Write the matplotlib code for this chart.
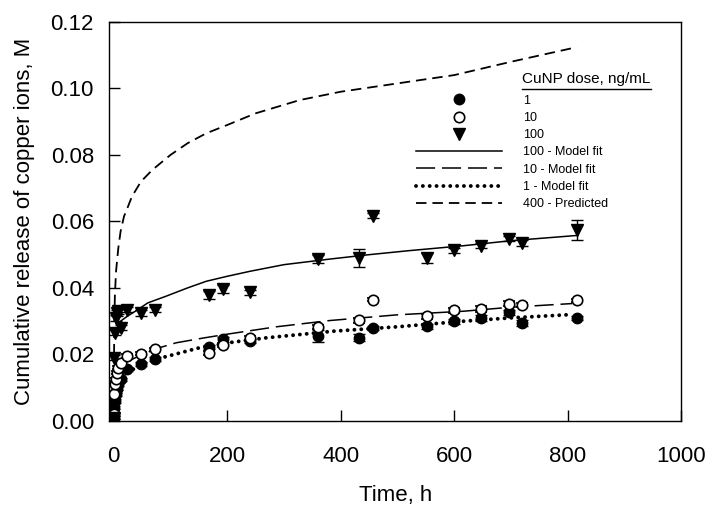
import matplotlib
matplotlib.use("Agg")
import matplotlib.pyplot as plt
from matplotlib.lines import Line2D

plt.rcParams['font.family'] = ['Liberation Sans', 'DejaVu Sans']

# sampling times (h)
time_h = [0, 1, 2, 4, 6, 8, 12, 24, 48, 72, 168, 192, 240, 360,
          432, 456, 552, 600, 648, 696, 720, 816]

# measured release, M
dose_1 = [0.001, 0.004, 0.006, 0.008, 0.0097, 0.011, 0.0125, 0.0155, 0.017, 0.0185,
          0.0223, 0.0245, 0.024, 0.0255, 0.025, 0.0278, 0.0285, 0.030, 0.031,
          0.0327, 0.0295, 0.031]
dose_1_err = [0.0005, 0.0005, 0.0005, 0.0005, 0.0005, 0.0005, 0.0005, 0.0006, 0.0006, 0.0006,
              0.0006, 0.0008, 0.0006, 0.0018, 0.001, 0.0006, 0.0008, 0.0008, 0.0008,
              0.0008, 0.001, 0.0006]
dose_10 = [0.002, 0.008, 0.011, 0.0125, 0.0145, 0.016, 0.0175, 0.0195, 0.0202, 0.0215,
           0.0205, 0.0227, 0.025, 0.0283, 0.0303, 0.0365, 0.0315, 0.0333, 0.0337,
           0.0353, 0.035, 0.0363]
dose_10_err = [0.0005, 0.0005, 0.0005, 0.0005, 0.0005, 0.0005, 0.0005, 0.0005, 0.0005, 0.0005,
               0.0006, 0.0006, 0.0006, 0.0006, 0.0008, 0.0005, 0.0008, 0.0008, 0.0008,
               0.0008, 0.0006, 0.0005]
dose_100 = [0.001, 0.019, 0.0265, 0.031, 0.0325, 0.033, 0.028, 0.0335, 0.0325, 0.0335,
            0.038, 0.0397, 0.0387, 0.0487, 0.049, 0.0617, 0.049, 0.0513, 0.0527,
            0.0548, 0.0535, 0.0573]
dose_100_err = [0.0005, 0.0008, 0.0008, 0.0008, 0.0008, 0.0008, 0.0008, 0.0008, 0.0008, 0.0008,
                0.0012, 0.0012, 0.0008, 0.0012, 0.0027, 0.0008, 0.0015, 0.0008, 0.0008,
                0.0008, 0.001, 0.003]

# model curves
fit100_t = [12, 24, 38, 60, 92, 130, 163, 200, 240, 300, 382, 450, 520, 617, 700, 818]
fit100_v = [0.030, 0.0315, 0.033, 0.0355, 0.0375, 0.040, 0.042, 0.0435, 0.045, 0.047,
            0.0487, 0.050, 0.0512, 0.0527, 0.0542, 0.0558]
fit10_t = [20, 44, 76, 110, 160, 204, 286, 381, 499, 617, 700, 808]
fit10_v = [0.0175, 0.0195, 0.0218, 0.0235, 0.025, 0.0262, 0.0283, 0.0302, 0.0319,
           0.033, 0.0342, 0.0353]
fit1_t = [24, 44, 65, 91, 151, 210, 269, 388, 499, 617, 700, 808]
fit1_v = [0.0145, 0.0165, 0.018, 0.0193, 0.022, 0.0237, 0.025, 0.027, 0.0283,
          0.030, 0.031, 0.032]
pred400_t = [0.5, 1, 2, 4, 8, 12, 18, 24, 32, 48, 68, 100, 130, 163, 200, 250,
             328, 400, 500, 600, 700, 816]
pred400_v = [0.02, 0.03, 0.038, 0.045, 0.052, 0.057, 0.0615, 0.064, 0.0675, 0.072,
             0.0755, 0.080, 0.0835, 0.0865, 0.089, 0.0925, 0.0965, 0.099, 0.1015,
             0.104, 0.108, 0.1124]

fig = plt.figure(figsize=(7.14, 5.09), dpi=100)
ax = fig.add_axes([0.153, 0.173, 0.801, 0.784])

pred_style = dict(color='black', lw=1.3, dashes=(5.8, 3.3))
fit100_style = dict(color='black', lw=1.1)
fit10_style = dict(color='black', lw=1.1, dashes=(12.5, 4.5))
fit1_style = dict(color='black', lw=2.8, dashes=(0.01, 1.75), dash_capstyle='round')

ax.plot(pred400_t, pred400_v, **pred_style)
ax.plot(fit100_t, fit100_v, **fit100_style)
ax.plot(fit10_t, fit10_v, **fit10_style)
ax.plot(fit1_t, fit1_v, **fit1_style)

eb = dict(ecolor='black', elinewidth=1, capsize=4, capthick=1, linestyle='none')
ax.errorbar(time_h, dose_1, yerr=dose_1_err, marker='o', ms=7.5, mfc='black', mec='black', **eb)
ax.errorbar(time_h, dose_10, yerr=dose_10_err, marker='o', ms=7.5, mfc='white', mec='black',
            mew=1.2, **eb)
ax.errorbar(time_h, dose_100, yerr=dose_100_err, marker='v', ms=9, mfc='black', mec='black', **eb)

ax.set_xlim(-8, 1000)
ax.set_ylim(0, 0.12)
ax.set_xticks([0, 200, 400, 600, 800, 1000])
ax.set_yticks([0, 0.02, 0.04, 0.06, 0.08, 0.10, 0.12])
ax.set_yticklabels(['0.00', '0.02', '0.04', '0.06', '0.08', '0.10', '0.12'])
ax.tick_params(direction='in', length=8, width=1, labelsize=16)
ax.tick_params(axis='x', pad=18)
ax.tick_params(axis='y', pad=11)
for s in ax.spines.values():
    s.set_linewidth(1)

ax.set_xlabel('Time, h', fontsize=16, labelpad=13)
ax.set_ylabel('Cumulative release of copper ions, M', fontsize=16, labelpad=11)

handles = [
    Line2D([], [], ls='none', marker='o', ms=7.5, mfc='black', mec='black'),
    Line2D([], [], ls='none', marker='o', ms=7.5, mfc='white', mec='black', mew=1.2),
    Line2D([], [], ls='none', marker='v', ms=9, mfc='black', mec='black'),
    Line2D([], [], **fit100_style),
    Line2D([], [], **fit10_style),
    Line2D([], [], **fit1_style),
    Line2D([], [], **pred_style),
]
labels = ['1', '10', '100', '100 - Model fit', '10 - Model fit', '1 - Model fit', '400 - Predicted']
ax.legend(handles, labels, loc='upper left', bbox_to_anchor=(0.536, 0.8175), frameon=False,
          fontsize=9, handlelength=6.9, handletextpad=1.7, labelspacing=0.42,
          borderpad=0, borderaxespad=0)

title = ax.text(0.722, 0.846, 'CuNP dose, ng/mL', transform=ax.transAxes, fontsize=11,
                ha='left', va='baseline')
fig.canvas.draw()
bb = title.get_window_extent().transformed(ax.transAxes.inverted())
ax.plot([bb.x0, bb.x1], [0.833, 0.833], transform=ax.transAxes, color='black', lw=1)

fig.savefig('out.png', dpi=100)
